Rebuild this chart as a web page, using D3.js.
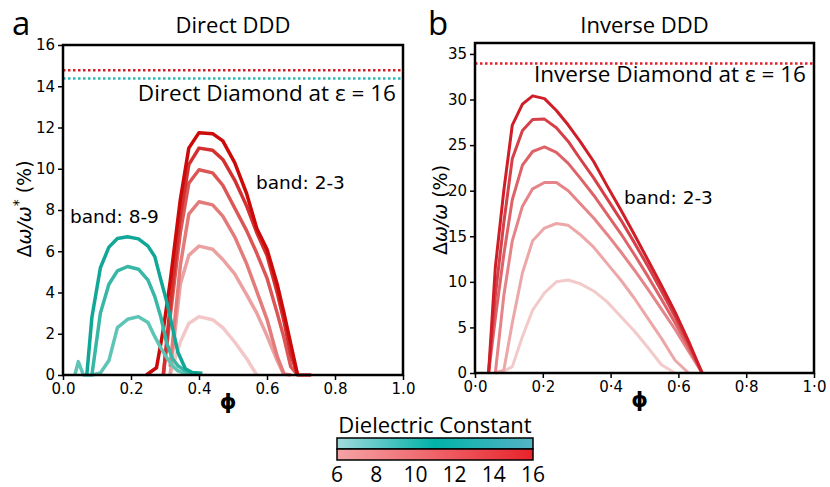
<!DOCTYPE html>
<html>
<head>
<meta charset="utf-8">
<script src="https://cdn.jsdelivr.net/npm/d3@7"></script>
<style>
  body { margin: 0; background: #fff; }
  .tick text { font-family: "DejaVu Sans", sans-serif; font-size: 15px; fill: #000; }
  .tick line { stroke: #000; stroke-width: 1.5; }
  .lbl { font-family: "Open Sans", sans-serif; fill: #000; }
</style>
</head>
<body>
<svg width="830" height="487"></svg>
<script>
// ---- data ----
var epsAll = [6, 8, 10, 12, 14, 16];

// panel a, band 2-3 (red)
var phiA = [0.245, 0.275, 0.295, 0.315, 0.345, 0.37, 0.40, 0.44, 0.47, 0.505, 0.54, 0.57, 0.60, 0.63, 0.65, 0.67, 0.69, 0.73];
var gapA6  = [null, null, null, 0, 1.6, 2.5, 2.83, 2.68, 2.3, 1.6, 0.8, 0, null, null, null, null, null, null];
var gapA8  = [null, null, null, 0, 4.4, 5.8, 6.25, 6.1, 5.6, 4.9, 3.9, 3.0, 1.9, 0.7, 0, null, null, null];
var gapA10 = [null, null, null, 0.4, 5.3, 7.8, 8.4, 8.25, 7.7, 6.7, 5.4, 4.05, 2.7, 0.9, 0.05, 0, null, null];
var gapA12 = [null, null, 0, 2.8, 6.9, 9.3, 9.95, 9.8, 9.2, 8.1, 7.0, 5.9, 4.7, 3.0, 1.8, 0.4, 0, null];
var gapA14 = [null, null, 0, 3.3, 7.7, 10.2, 11.0, 10.9, 10.45, 9.45, 8.2, 6.9, 5.8, 4.0, 2.6, 1.0, 0, 0];
var gapA16 = [0, 0.35, 2.2, 4.5, 8.5, 11.0, 11.75, 11.7, 11.35, 10.3, 8.8, 7.1, 6.1, 4.4, 3.0, 1.5, 0, null];

// panel a, band 8-9 (teal)
var phiT = [0.035, 0.045, 0.06, 0.07, 0.085, 0.11, 0.135, 0.16, 0.19, 0.222, 0.25, 0.27, 0.288, 0.305, 0.322, 0.338, 0.36, 0.38, 0.41];
var gapT12 = [0, 0.65, 0, 0, 0, 0.1, 0.7, 2.3, 2.7, 2.83, 2.55, 1.86, 1.3, 0.85, 0.45, 0.2, 0.08, 0.05, null];
var gapT14 = [null, null, null, null, 0, 3.0, 4.4, 5.05, 5.26, 5.13, 4.6, 3.8, 2.8, 1.54, 0.8, 0.45, 0.2, 0.05, null];
var gapT16 = [null, null, null, 0, 2.8, 5.2, 6.2, 6.62, 6.7, 6.6, 6.25, 5.74, 4.6, 3.56, 2.3, 1.1, 0.3, 0.12, 0.08];

// panel b, band 2-3 (red)
var phiB = [0.04, 0.06, 0.085, 0.11, 0.14, 0.17, 0.205, 0.24, 0.275, 0.31, 0.35, 0.39, 0.43, 0.47, 0.51, 0.55, 0.59, 0.63, 0.67];
var gapB6  = [null, 0, 0.2, 0.7, 4.0, 6.9, 8.8, 10.0, 10.2, 9.8, 9.0, 7.8, 6.2, 4.6, 2.8, 0.9, 0, null, null];
var gapB8  = [null, 0, 0.3, 5.5, 11.0, 14.5, 15.9, 16.4, 16.2, 15.2, 13.8, 12.0, 10.2, 8.2, 6.0, 3.8, 1.4, 0, null];
var gapB10 = [null, 0, 8.5, 14.5, 18.3, 20.2, 20.9, 20.9, 20.0, 18.6, 17.0, 15.2, 13.3, 11.3, 9.2, 7.0, 4.8, 2.4, 0];
var gapB12 = [0, 6, 13, 19.0, 22.8, 24.3, 24.8, 24.2, 23.0, 21.4, 19.5, 17.4, 15.3, 13.0, 10.6, 8.1, 5.5, 2.8, 0];
var gapB14 = [0, 8.5, 16.5, 23.5, 26.6, 27.8, 27.85, 26.9, 25.4, 23.5, 21.4, 19.1, 16.8, 14.3, 11.7, 9.0, 6.2, 3.2, 0];
var gapB16 = [0, 11.6, 20, 27.2, 29.5, 30.4, 30.1, 28.8, 27.2, 25.4, 23.2, 20.5, 17.9, 15.2, 12.4, 9.6, 6.7, 3.5, 0];

// reference levels (diamond at eps = 16)
var directRed = 14.78, directTeal = 14.37, inverseRed = 33.95;

var ticksA = [0, 2, 4, 6, 8, 10, 12, 14, 16];
var ticksB = [0, 5, 10, 15, 20, 25, 30, 35];
var ticksX = [0, 0.2, 0.4, 0.6, 0.8, 1.0];
var cbTicks = [6, 8, 10, 12, 14, 16];

var svg = d3.select("svg");

var redA = d3.scaleLinear().domain([6, 16]).range(["#f3c7c7", "#cc0a0a"]),
    redB = d3.scaleLinear().domain([6, 16]).range(["#f3caca", "#cf1e27"]),
    teal = d3.scaleLinear().domain([12, 16]).range(["#5ec4b5", "#11a797"]);

function zip(xs, ys) {
  return xs.map(function(x, i) { return [x, ys[i]]; });
}

function panel(opt) {
  var x = d3.scaleLinear().domain([0, 1]).range([opt.left, opt.right]),
      y = d3.scaleLinear().domain(opt.ydom).range([opt.bottom, opt.top]);

  var g = svg.append("g");

  var line = d3.line()
      .defined(function(d) { return d[1] != null; })
      .x(function(d) { return x(d[0]); })
      .y(function(d) { return y(d[1]); });

  opt.series.forEach(function(s) {
    g.append("path")
        .datum(zip(s.phi, s.vals))
        .attr("fill", "none")
        .attr("stroke", s.color)
        .attr("stroke-width", opt.lw)
        .attr("stroke-linejoin", "round")
        .attr("d", line);
  });

  opt.refs.forEach(function(r) {
    g.append("line")
        .attr("x1", x(0)).attr("x2", x(1))
        .attr("y1", y(r.v)).attr("y2", y(r.v))
        .attr("stroke", r.color)
        .attr("stroke-width", 2.5)
        .attr("stroke-dasharray", "2.5,2.5");
  });

  g.append("g")
      .attr("transform", "translate(" + opt.left + ",0)")
      .call(d3.axisLeft(y).tickValues(opt.yticks).tickSize(5).tickPadding(3).tickFormat(d3.format("d")))
      .call(function(a) { a.select(".domain").remove(); });

  g.append("g")
      .attr("transform", "translate(0," + opt.bottom + ")")
      .call(d3.axisBottom(x).tickValues(ticksX).tickSize(5).tickPadding(3).tickFormat(opt.xfmt))
      .call(function(a) { a.select(".domain").remove(); });

  g.append("rect")
      .attr("x", opt.left).attr("y", opt.top)
      .attr("width", opt.right - opt.left).attr("height", opt.bottom - opt.top)
      .attr("fill", "none").attr("stroke", "#000").attr("stroke-width", 2.5);

  // x label
  g.append("text")
      .attr("x", (opt.left + opt.right) / 2 - 5).attr("y", opt.bottom + 34)
      .attr("text-anchor", "middle")
      .style("font-family", "DejaVu Sans").style("font-weight", "bold").style("font-size", "21px")
      .text("ϕ");

  // title + letter
  g.append("text").attr("class", "lbl")
      .attr("x", (opt.left + opt.right) / 2).attr("y", 33)
      .attr("text-anchor", "middle").style("font-size", "22px")
      .text(opt.title);
  g.append("text").attr("class", "lbl")
      .attr("x", opt.letterX).attr("y", 35)
      .style("font-size", "33px")
      .text(opt.letter);

  return {x: x, y: y, g: g};
}

var fmtDot = function(d) { return d3.format(".1f")(d).replace(".", "·"); };

var pa = panel({
  left: 63, right: 403, top: 45, bottom: 375, ydom: [0, 16], lw: 3.5,
  yticks: ticksA, xfmt: d3.format(".1f"), title: "Direct DDD", letter: "a", letterX: 12,
  series: [
    {phi: phiA, vals: gapA6, color: redA(6)},
    {phi: phiA, vals: gapA8, color: redA(8)},
    {phi: phiA, vals: gapA10, color: redA(10)},
    {phi: phiA, vals: gapA12, color: redA(12)},
    {phi: phiA, vals: gapA14, color: redA(14)},
    {phi: phiA, vals: gapA16, color: redA(16)},
    {phi: phiT, vals: gapT12, color: teal(12)},
    {phi: phiT, vals: gapT14, color: teal(14)},
    {phi: phiT, vals: gapT16, color: teal(16)}
  ],
  refs: [{v: directRed, color: "#d0202a"}, {v: directTeal, color: "#2db6b2"}]
});

var pb = panel({
  left: 475, right: 814, top: 43, bottom: 373, ydom: [0, 36.2], lw: 3,
  yticks: ticksB, xfmt: fmtDot, title: "Inverse DDD", letter: "b", letterX: 428,
  series: [
    {phi: phiB, vals: gapB6, color: redB(6)},
    {phi: phiB, vals: gapB8, color: redB(8)},
    {phi: phiB, vals: gapB10, color: redB(10)},
    {phi: phiB, vals: gapB12, color: redB(12)},
    {phi: phiB, vals: gapB14, color: redB(14)},
    {phi: phiB, vals: gapB16, color: redB(16)}
  ],
  refs: [{v: inverseRed, color: "#e0202a"}]
});

// annotations
pa.g.append("text").attr("class", "lbl").attr("x", 396).attr("y", 101)
    .attr("text-anchor", "end").style("font-size", "22.5px").text("Direct Diamond at ε = 16");
pb.g.append("text").attr("class", "lbl").attr("x", 806).attr("y", 82)
    .attr("text-anchor", "end").style("font-size", "22.5px").text("Inverse Diamond at ε = 16");

var bandStyle = function(t) {
  t.style("font-family", "DejaVu Sans").style("font-size", "18.5px").attr("fill", "#000");
};
pa.g.append("text").attr("x", 70).attr("y", 223).text("band: 8-9").call(bandStyle);
pa.g.append("text").attr("x", 256).attr("y", 189).text("band: 2-3").call(bandStyle);
pb.g.append("text").attr("x", 624).attr("y", 204).text("band: 2-3").call(bandStyle);

// y labels
function ylab(g, cx, cy, star) {
  var t = g.append("text")
      .attr("transform", "translate(" + cx + "," + cy + ") rotate(-90)")
      .attr("text-anchor", "middle")
      .style("font-family", "DejaVu Sans").style("font-size", "19px");
  t.append("tspan").text("Δ");
  t.append("tspan").style("font-style", "italic").text("ω/ω");
  if (star) {
    t.append("tspan").attr("dy", -8).style("font-size", "14px").text("*");
    t.append("tspan").attr("dy", 8).text(" (%)");
  } else {
    t.append("tspan").text("    (%)");
  }
}
ylab(svg, 31, 209, true);
ylab(svg, 447, 210, false);

// colour bar
var cbx = d3.scaleLinear().domain([6, 16]).range([337, 533]);
var defs = svg.append("defs");
var gT = defs.append("linearGradient").attr("id", "gT");
gT.append("stop").attr("offset", "0%").attr("stop-color", "#a2d9dd");
gT.append("stop").attr("offset", "50%").attr("stop-color", "#00b2a8");
gT.append("stop").attr("offset", "100%").attr("stop-color", "#56b4c4");
var gR = defs.append("linearGradient").attr("id", "gR");
gR.append("stop").attr("offset", "0%").attr("stop-color", "#f5a3a6");
gR.append("stop").attr("offset", "100%").attr("stop-color", "#e8232b");

svg.append("rect").attr("x", cbx(6)).attr("y", 438).attr("width", cbx(16) - cbx(6)).attr("height", 11)
    .attr("fill", "url(#gT)").attr("stroke", "#000").attr("stroke-width", 1.5);
svg.append("rect").attr("x", cbx(6)).attr("y", 449).attr("width", cbx(16) - cbx(6)).attr("height", 11)
    .attr("fill", "url(#gR)").attr("stroke", "#000").attr("stroke-width", 1.5);
svg.append("text").attr("class", "lbl").attr("x", (cbx(6) + cbx(16)) / 2).attr("y", 433)
    .attr("text-anchor", "middle").style("font-size", "22px").text("Dielectric Constant");
svg.selectAll(".cbt").data(cbTicks).enter().append("text")
    .attr("class", "lbl cbt")
    .attr("x", function(d) { return cbx(d); }).attr("y", 482)
    .attr("text-anchor", "middle").style("font-size", "21px")
    .text(function(d) { return d; });
</script>
</body>
</html>
